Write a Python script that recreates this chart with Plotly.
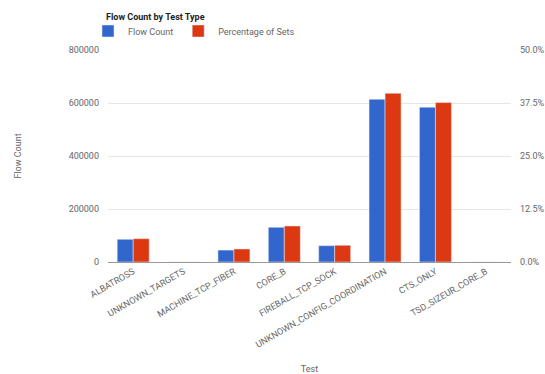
import plotly.graph_objects as go

categories = ["ALBATROSS", "UNKNOWN_TARGETS", "MACHINE_TCP_FIBER", "CORE_B",
              "FIREBALL_TCP_SOCK", "UNKNOWN_CONFIG_COORDINATION", "CTS_ONLY",
              "TSD_SIZEUR_CORE_B"]
flow_count = [85700, 0, 45000, 131000, 61500, 614000, 584000, 0]
pct_sets = [0.055, 0.0, 0.0307, 0.0849, 0.0394, 0.398, 0.376, 0.0]

left_ticks = [0, 200000, 400000, 600000, 800000]
left_labels = ["0", "200000", "400000", "600000", "800000"]
right_ticks = [0, 0.125, 0.25, 0.375, 0.5]
right_labels = ["0.0%", "12.5%", "25.0%", "37.5%", "50.0%"]

fig = go.Figure()
fig.add_trace(go.Bar(x=categories, y=flow_count, name="Flow Count",
                     marker_color="#3366cc", offsetgroup="a", yaxis="y"))
fig.add_trace(go.Bar(x=categories, y=pct_sets, name="Percentage of Sets",
                     marker_color="#dc3912", offsetgroup="b", yaxis="y2"))

fig.update_layout(
    width=545, height=374,
    margin=dict(l=108, r=34, t=50, b=112, autoexpand=False),
    paper_bgcolor="white", plot_bgcolor="white",
    barmode="group", bargap=0.365, bargroupgap=0,
    font=dict(family="Roboto, Arial, sans-serif", size=9, color="#666"),
    title=dict(text="<b>Flow Count by Test Type</b>", x=106/545, xanchor="left",
               y=1 - 17/374, yanchor="middle", font=dict(size=9, color="#222")),
    legend=dict(orientation="h", x=88/545, xanchor="left", xref="container",
                y=1 - 31/374, yanchor="middle", yref="container",
                font=dict(size=9, color="#666"), itemwidth=30,
                bgcolor="rgba(0,0,0,0)"),
    showlegend=True,
    xaxis=dict(tickangle=-30, tickfont=dict(size=9, color="#666"), automargin=False,
               title=dict(text="Test", font=dict(size=9, color="#666"), standoff=20),
               showline=True, linecolor="#999", linewidth=1, ticks=""),
    yaxis=dict(range=[0, 800000], tickvals=left_ticks, ticktext=left_labels,
               showgrid=True, gridcolor="#e6e6e6", zeroline=False, automargin=False,
               tickfont=dict(size=9, color="#666"), ticklabelstandoff=8,
               title=dict(text="Flow Count", font=dict(size=9, color="#666"), standoff=45)),
    yaxis2=dict(range=[0, 0.5], tickvals=right_ticks, ticktext=right_labels,
                overlaying="y", side="right", showgrid=False, zeroline=False,
                automargin=False,
                tickfont=dict(size=9, color="#666"), ticklabelstandoff=8),
)
fig.write_html("out.html")
